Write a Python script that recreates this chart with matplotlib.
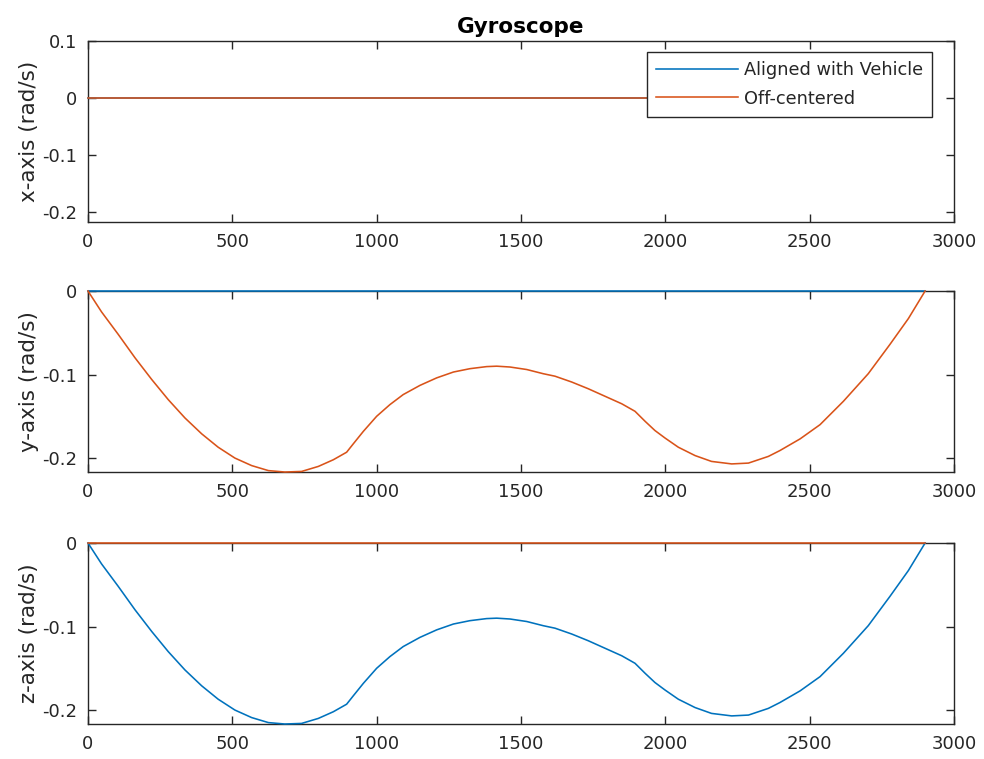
import numpy as np
import matplotlib
matplotlib.use('Agg')
import matplotlib.pyplot as plt

# samples (time index, rad/s)
t = [0, 47, 105, 163, 221, 278, 336, 394, 451, 509, 567, 625, 682, 740, 798,
     850, 896, 919, 954, 1000, 1046, 1092, 1150, 1208, 1266, 1323, 1381, 1416,
     1462, 1520, 1577, 1618, 1676, 1733, 1791, 1849, 1895, 1930, 1964, 1999,
     2045, 2103, 2160, 2230, 2288, 2357, 2397, 2467, 2536, 2617, 2703, 2778,
     2842, 2900]
turn_rate = [0, -0.025, -0.052, -0.080, -0.106, -0.130, -0.152, -0.171, -0.187,
             -0.200, -0.209, -0.215, -0.2167, -0.216, -0.210,
             -0.202, -0.193, -0.183, -0.168, -0.150, -0.136, -0.124, -0.113,
             -0.104, -0.097, -0.093, -0.0905, -0.090,
             -0.091, -0.094, -0.099, -0.102, -0.109, -0.117, -0.126, -0.135,
             -0.144, -0.156, -0.167, -0.176,
             -0.187, -0.197, -0.204, -0.207, -0.206, -0.198, -0.191, -0.177,
             -0.160, -0.132, -0.099, -0.064,
             -0.033, 0]
zero_rate = [0] * len(t)

aligned = [zero_rate, zero_rate, turn_rate]      # x, y, z
off_centered = [zero_rate, turn_rate, zero_rate]
axis_names = ['x-axis (rad/s)', 'y-axis (rad/s)', 'z-axis (rad/s)']
series_names = ['Aligned with Vehicle', 'Off-centered']
x_ticks = [0, 500, 1000, 1500, 2000, 2500, 3000]
y_ticks = [[0.1, 0, -0.1, -0.2], [0, -0.1, -0.2], [0, -0.1, -0.2]]
y_top = [0.1, 0, 0]

plt.rcParams['axes.unicode_minus'] = False
plt.rcParams['font.family'] = ['DejaVu Sans']

blue = '#0072BD'
orange = '#D95319'
ink = '#262626'

fig = plt.figure(figsize=(9.84, 7.59), dpi=100)
tops = [0.946, 0.6166, 0.2846]
axes = []
for i in range(3):
    ax = fig.add_axes([0.0894, tops[i] - 0.2385, 0.8801, 0.2385])
    ax.plot(t, aligned[i], color=blue, lw=1.15, label=series_names[0],
            clip_on=False, zorder=3)
    ax.plot(t, off_centered[i], color=orange, lw=1.15, label=series_names[1],
            clip_on=False, zorder=3)
    ax.set_xlim(0, 3000)
    ax.set_ylim(-0.2167, y_top[i])
    ax.set_xticks(x_ticks)
    ax.set_yticks(y_ticks[i])
    ax.set_yticklabels(['%g' % v for v in y_ticks[i]])
    ax.tick_params(direction='in', length=6, width=1, colors=ink, labelsize=13,
                   top=True, right=True, pad=8)
    for s in ax.spines.values():
        s.set_color(ink)
        s.set_linewidth(1)
    ax.set_ylabel(axis_names[i], fontsize=15.5, color=ink, labelpad=2)
    axes.append(ax)

axes[0].set_title('Gyroscope', fontsize=15.5, fontweight='bold', color='black', pad=6)
leg = axes[0].legend(loc='upper right', bbox_to_anchor=(0.9746, 0.9385), borderaxespad=0,
                     fontsize=12.8, fancybox=False, edgecolor=ink, framealpha=1,
                     handlelength=4.6, handletextpad=0.35, borderpad=0.5, labelspacing=0.6)
leg.get_frame().set_linewidth(1)
leg.set_zorder(5)
for txt in leg.get_texts():
    txt.set_color(ink)

fig.savefig('out.png', dpi=100)
